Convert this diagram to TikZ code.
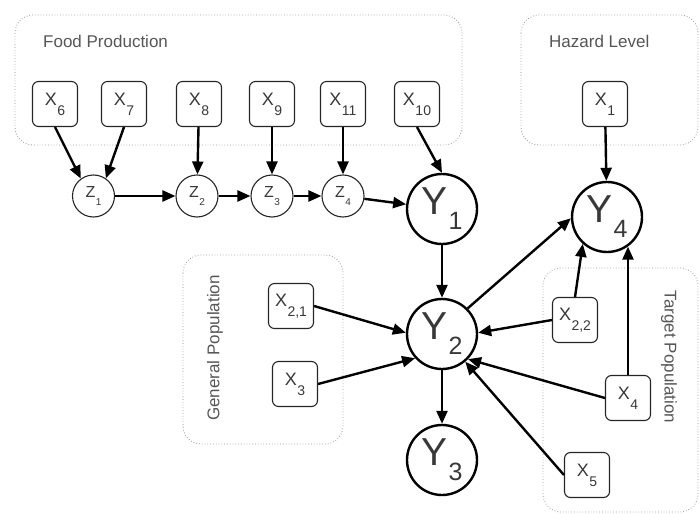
\documentclass[tikz,border=0pt]{standalone}
\usepackage{fontspec}
\setmainfont{Liberation Sans}
\usetikzlibrary{arrows.meta}
\definecolor{txt}{HTML}{383838}
\definecolor{grp}{HTML}{9A9A9A}
\newcommand{\xlab}[1]{{\fontsize{18}{18}\selectfont X}\kern0.5pt\raisebox{-10pt}{\fontsize{14}{14}\selectfont #1}}
\newcommand{\zlab}[1]{{\fontsize{16}{16}\selectfont Z}\kern0.5pt\raisebox{-8pt}{\fontsize{10}{10}\selectfont #1}}
\newcommand{\ylab}[1]{{\fontsize{39}{39}\selectfont Y}\kern1pt\raisebox{-15pt}{\fontsize{25}{25}\selectfont #1}}
\begin{document}
\begin{tikzpicture}[x=1pt,y=-1pt,
  xbox/.style={draw=black!85,line width=1.1pt,rounded corners=6pt,minimum width=45pt,minimum height=45pt,inner sep=0pt,text=txt},
  zcirc/.style={circle,draw=black!85,line width=1.1pt,minimum size=42pt,inner sep=0pt,text=txt},
  ycirc/.style={circle,draw=black,line width=2.4pt,minimum size=70pt,inner sep=0pt,text=txt},
  group/.style={draw=grp,dotted,line width=0.8pt,rounded corners=18pt},
  glabel/.style={text=txt!85,font=\fontsize{17}{17}\selectfont,inner sep=0pt},
  arr/.style={line width=2.4pt,-{Triangle[length=13pt,width=11pt]}}]
\useasboundingbox (0,0) rectangle (700,513);
% groups
\draw[group] (15,15) rectangle (462,145);
\draw[group] (521,15) rectangle (698,145);
\draw[group] (183,255) rectangle (343,444);
\draw[group] (543,268) rectangle (698,512);
\node[glabel,anchor=west] (lfood) at (43,41) {Food Production};
\node[glabel,anchor=west] (lhaz) at (549,41) {Hazard Level};
\node[glabel,rotate=90] (lgen) at (215,348) {General Population};
\node[glabel,rotate=-90] (ltar) at (669,357) {Target Population};
% X nodes
\node[xbox] (X6) at (55,104) {\xlab{6}};
\node[xbox] (X7) at (124,104) {\xlab{7}};
\node[xbox] (X8) at (199,104) {\xlab{8}};
\node[xbox] (X9) at (272,104) {\xlab{9}};
\node[xbox] (X11) at (343,104) {\xlab{11}};
\node[xbox] (X10) at (417,104) {\xlab{10}};
\node[xbox] (X1) at (605,104) {\xlab{1}};
\node[xbox] (X21) at (291,306) {\xlab{2,1}};
\node[xbox] (X3) at (295,384) {\xlab{3}};
\node[xbox] (X22) at (575,320) {\xlab{2,2}};
\node[xbox] (X4) at (628,398) {\xlab{4}};
\node[xbox] (X5) at (587,475) {\xlab{5}};
% Z nodes
\node[zcirc] (Z1) at (93.5,196) {\zlab{1}};
\node[zcirc] (Z2) at (197,196) {\zlab{2}};
\node[zcirc] (Z3) at (272,196) {\zlab{3}};
\node[zcirc] (Z4) at (343,196) {\zlab{4}};
% Y nodes
\node[ycirc] (Y1) at (442,209) {\ylab{1}};
\node[ycirc] (Y2) at (442,334) {\ylab{2}};
\node[ycirc] (Y3) at (442,460) {\ylab{3}};
\node[ycirc] (Y4) at (607,217) {\ylab{4}};
% arrows
\draw[arr] (X6.south) -- (Z1.126);
\draw[arr] (X7.south) -- (Z1.55);
\draw[arr] (X8) -- (Z2);
\draw[arr] (X9) -- (Z3);
\draw[arr] (X11) -- (Z4);
\draw[arr] (X10.south) -- (Y1.north);
\draw[arr] (Z1) -- (Z2);
\draw[arr] (Z2) -- (Z3);
\draw[arr] (Z3) -- (Z4);
\draw[arr] (Z4) -- (Y1);
\draw[arr] (Y1) -- (Y2);
\draw[arr] (Y2) -- (Y3);
\draw[arr] (X21.east) -- (Y2.178);
\draw[arr] (X3.east) -- (Y2.222);
\draw[arr] (Y2.45) -- (Y4.182);
\draw[arr] (X22.west) -- (Y2.2);
\draw[arr] (X22.north) -- (Y4.-132);
\draw[arr] (X4.north) -- (X4.north |- Y4.-55);
\draw[arr] (X4.west) -- (Y2.-44);
\draw[arr] (X5.west) -- (Y2.-50);
\draw[arr] (X1) -- (Y4);
\end{tikzpicture}
\end{document}
